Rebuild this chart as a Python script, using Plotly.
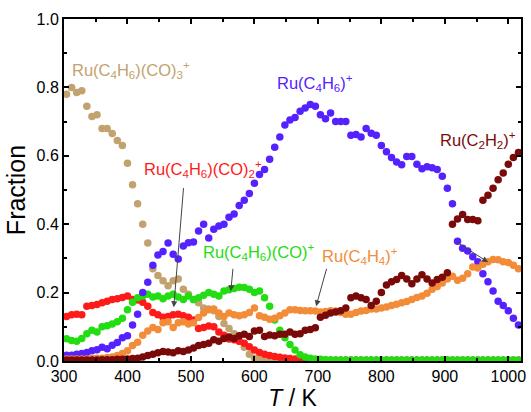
import plotly.graph_objects as go

T = [304, 312, 320, 328, 336, 344, 352, 360, 368, 376, 384, 392, 400, 408, 416, 424, 432, 440, 448, 456,
     464, 472, 480, 488, 496, 504, 512, 520, 528, 536, 544, 552, 560, 568, 576, 584, 592, 600, 608, 616,
     624, 632, 640, 648, 656, 664, 672, 680, 688, 696, 704, 712, 720, 728, 736, 744, 752, 760, 768, 776,
     784, 792, 800, 808, 816, 824, 832, 840, 848, 856, 864, 872, 880, 888, 896, 904, 912, 920, 928, 936,
     944, 952, 960, 968, 976, 984, 992, 1000, 1008, 1016]

co3 = [.78, .80, .785, .79, .745, .715, .72, .68, .68, .665, .645, .63, .578, .515, .46, .40, .345, .27, .25, .235,
       .22, .235, .24, .21, .195, .18, .17, .155, .152, .147, .13, .11, .095, .08, .058, .04, .02, .008, .004, .003,
       .002, .002, .002, .002, .002, .002, .002, .002, .002, .002, .002, .002, .002, .002, .002, .002, .002, .002, .002, .002,
       .002, .002, .002, .002, .002, .002, .002, .002, .002, .002, .002, .002, .002, .002, .002, .002, .002, .002, .002, .002,
       .002, .002, .002, .002, .002, .002, .002, .002, .002, .002]

co2 = [.13, .135, .137, .135, .16, .162, .165, .17, .175, .18, .182, .186, .19, .18, .178, .172, .16, .142, .135, .128,
       .13, .135, .137, .132, .128, .12, .095, .098, .102, .10, .085, .075, .064, .062, .058, .052, .042, .032, .025, .02,
       .016, .013, .011, .009, .007, .006, .004, .003, .002, .002, .002, .002, .002, .002, .002, .002, .002, .002, .002, .002,
       .002, .002, .002, .002, .002, .002, .002, .002, .002, .002, .002, .002, .002, .002, .002, .002, .002, .002, .002, .002,
       .002, .002, .002, .002, .002, .002, .002, .002, .002, .002]

co1 = [.065, .06, .058, .066, .08, .09, .085, .10, .103, .108, .115, .125, .15, .172, .185, .19, .195, .187, .19, .182,
       .19, .195, .187, .18, .19, .18, .185, .192, .20, .195, .19, .205, .208, .212, .216, .215, .21, .20, .205, .185,
       .16, .12, .09, .068, .048, .032, .018, .012, .008, .006, .005, .004, .003, .003, .003, .003, .003, .003, .003, .003,
       .003, .003, .003, .003, .003, .003, .003, .003, .003, .003, .003, .003, .003, .003, .003, .003, .003, .003, .003, .003,
       .003, .003, .003, .003, .003, .003, .003, .003, .003, .003]

c4h6 = [.017, .017, .02, .022, .025, .03, .033, .04, .036, .046, .054, .068, .074, .105, .137, .20, .23, .28, .31, .32,
        .345, .312, .298, .336, .346, .348, .38, .40, .36, .385, .395, .40, .42, .43, .455, .47, .49, .52, .545, .56,
        .59, .625, .655, .69, .705, .712, .73, .74, .75, .745, .72, .708, .725, .70, .70, .70, .66, .662, .655, .68,
        .666, .66, .63, .612, .595, .582, .574, .598, .598, .575, .562, .568, .565, .56, .54, .505, .46, .35, .33, .322,
        .305, .29, .255, .232, .205, .175, .162, .147, .125, .105]

c4h4 = [.006, .006, .006, .006, .006, .007, .008, .008, .01, .012, .016, .022, .03, .045, .055, .075, .088, .098, .092, .112,
        .115, .098, .112, .115, .108, .112, .127, .14, .15, .152, .14, .13, .14, .135, .132, .135, .142, .155, .132, .128,
        .122, .125, .132, .14, .15, .15, .148, .147, .147, .146, .143, .145, .147, .146, .142, .137, .137, .142, .146, .148,
        .152, .152, .155, .158, .162, .166, .17, .174, .18, .186, .19, .198, .21, .218, .228, .24, .248, .236, .242, .255,
        .275, .272, .283, .29, .297, .296, .29, .288, .28, .27]

c2h2 = [.003, .003, .003, .003, .003, .003, .003, .004, .004, .004, .005, .005, .006, .007, .008, .012, .016, .02, .024, .028,
        .026, .024, .03, .028, .032, .038, .045, .048, .052, .062, .058, .066, .07, .066, .074, .078, .072, .088, .09, .072,
        .076, .074, .078, .078, .085, .078, .08, .09, .092, .097, .128, .134, .14, .143, .147, .155, .185, .19, .185, .18,
        .162, .175, .20, .222, .232, .238, .25, .24, .226, .24, .252, .24, .228, .238, .245, .258, .40, .415, .428, .414,
        .414, .41, .47, .485, .505, .53, .55, .575, .595, .61]

series = [
    (co3, "#C2A26E"),
    (co2, "#FF1A1A"),
    (co1, "#22DD11"),
    (c4h6, "#5522FF"),
    (c4h4, "#F28C38"),
    (c2h2, "#7A0A0A"),
]

fig = go.Figure()
for vals, col in series:
    fig.add_trace(go.Scatter(x=T, y=vals, mode="markers",
                             marker=dict(size=7.5, color=col, line=dict(width=0)),
                             showlegend=False))

font_family = "Liberation Sans, Arial, sans-serif"

labels = [
    ("Ru(C<sub>4</sub>H<sub>6</sub>)(CO)<sub>3</sub><sup>+</sup>", 309, 0.851, "left", "#C2A26E"),
    ("Ru(C<sub>4</sub>H<sub>6</sub>)(CO)<sub>2</sub><sup>+</sup>", 423, 0.56, "left", "#FF1A1A"),
    ("Ru(C<sub>4</sub>H<sub>6</sub>)<sup>+</sup>", 632, 0.813, "left", "#5522FF"),
    ("Ru(C<sub>2</sub>H<sub>2</sub>)<sup>+</sup>", 1015, 0.647, "right", "#7A0A0A"),
    ("Ru(C<sub>4</sub>H<sub>6</sub>)(CO)<sup>+</sup>", 516, 0.318, "left", "#22DD11"),
    ("Ru(C<sub>4</sub>H<sub>4</sub>)<sup>+</sup>", 703, 0.306, "left", "#F28C38"),
]
for txt, xx, yy, anc, col in labels:
    fig.add_annotation(x=xx, y=yy, text=txt, showarrow=False, xanchor=anc, yanchor="middle",
                       font=dict(family=font_family, size=16.5, color=col))

arrows = [
    (472.9, 0.157, 488.5, 0.51),
    (562.8, 0.204, 566.4, 0.274),
    (697.2, 0.160, 714.3, 0.274),
    (968.2, 0.289, 916.8, 0.350),
]
for hx, hy, tx, ty in arrows:
    fig.add_annotation(x=hx, y=hy, ax=tx, ay=ty, xref="x", yref="y", axref="x", ayref="y",
                       text="", showarrow=True, arrowhead=2, arrowsize=1.2, arrowwidth=1,
                       arrowcolor="#444444")

axis_common = dict(showline=True, linecolor="black", linewidth=2, mirror="ticks",
                   ticks="inside", ticklen=5, tickwidth=1.5, tickcolor="black",
                   showgrid=False, zeroline=False,
                   tickfont=dict(family=font_family, size=16, color="black"))

fig.update_xaxes(range=[300, 1020], tickmode="linear", tick0=300, dtick=100,
                 minor=dict(ticks="inside", ticklen=3, dtick=50, tick0=300, tickcolor="black", tickwidth=1.5),
                 title=dict(text="<i>T</i> / K", font=dict(family=font_family, size=23, color="black"), standoff=6),
                 **axis_common)
fig.update_yaxes(range=[0, 1.0], tickmode="linear", tick0=0, dtick=0.2, tickformat=".1f",
                 minor=dict(ticks="inside", ticklen=3, dtick=0.1, tick0=0, tickcolor="black", tickwidth=1.5),
                 title=dict(text="Fraction", font=dict(family=font_family, size=25, color="black"), standoff=4),
                 **axis_common)

fig.update_layout(width=531, height=412, margin=dict(l=64, r=5, t=19, b=50),
                  plot_bgcolor="white", paper_bgcolor="white")

fig.write_html("out.html")
